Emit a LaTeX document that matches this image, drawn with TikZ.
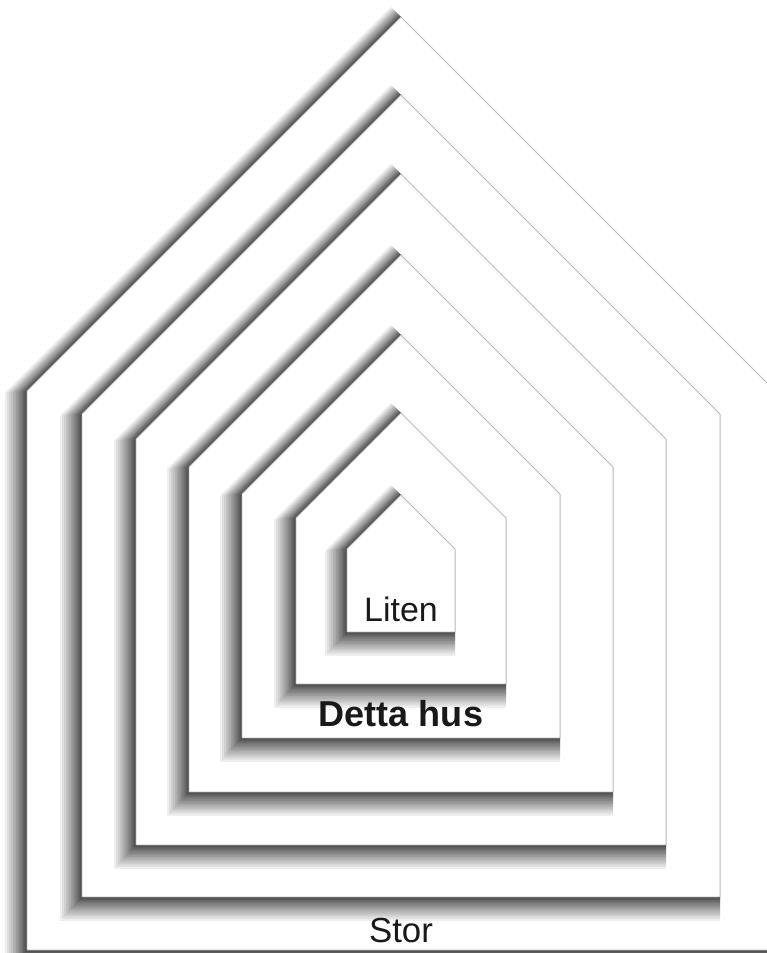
\documentclass[tikz,border=0pt]{standalone}
\usepackage{fontspec}
\setmainfont{Liberation Sans}
\usepackage{tikz}
\tikzset{
  skugga/.style={fill=black, opacity=0.065},
  hus/.style={fill=white, draw=gray!55, line width=0.5pt, line join=miter},
  etikett/.style={anchor=base, text=black!90, inner sep=0pt},
}
% #1 vänster vägg, #2 höger vägg, #3 golv, #4 takfot, #5 nock
\newcommand{\hus}[5]{%
  \foreach \t in {1,...,20}{
    \pgfmathsetmacro{\f}{(\t/20)^2}
    \pgfmathsetmacro{\xl}{0.44*\f}
    \pgfmathsetmacro{\yb}{0.48*\f}
    \pgfmathsetmacro{\rr}{0.40*\f}
    \fill[skugga] (#1-\xl,#3-\yb) -- (#1-\xl,#4-\xl+\rr) -- ({(#1+#2)/2-\rr/2},#5+\rr/2) -- (#2,#4) -- (#2,#3-\yb) -- cycle;
  }
  \draw[hus] (#1,#3) -- (#1,#4) -- ({(#1+#2)/2},#5) -- (#2,#4) -- (#2,#3) -- cycle;
}
\begin{document}
\begin{tikzpicture}[scale=1.0]
\useasboundingbox[fill=white] (0,0) rectangle (15.34,19.06);
% husen, ytterst först
\hus{0.54}{15.50}{0.06}{11.24}{18.72}
\hus{1.64}{14.40}{1.12}{10.78}{17.16}
\hus{2.72}{13.32}{2.16}{10.28}{15.58}
\hus{3.78}{12.26}{3.22}{9.72}{13.96}
\hus{4.84}{11.20}{4.30}{9.18}{12.36}
\hus{5.92}{10.12}{5.38}{8.70}{10.80}
\hus{6.94}{9.10}{6.42}{8.08}{9.16}
% texter
\node[etikett, font=\fontsize{19.3pt}{22pt}\selectfont] (liten) at (8.02,6.62) {Liten};
\node[etikett, font=\fontsize{20.5pt}{22pt}\selectfont\bfseries] (detta) at (8.02,4.52) {Detta hus};
\node[etikett, font=\fontsize{19.8pt}{22pt}\selectfont] (stor) at (8.02,0.22) {Stor};
\end{tikzpicture}
\end{document}
